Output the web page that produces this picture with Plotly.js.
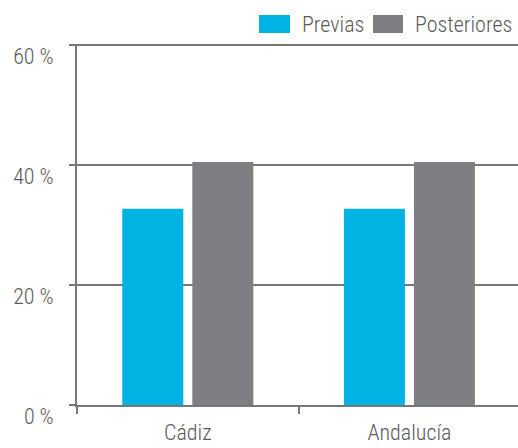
<!DOCTYPE html>
<html>
<head>
<meta charset="utf-8">
<script src="https://cdn.plot.ly/plotly-3.0.1.min.js"></script>
<style>html,body{margin:0;padding:0;background:#fff;}</style>
</head>
<body>
<div id="chart" style="width:518px;height:448px;"></div>
<script>
const categories = ["Cádiz", "Andalucía"];
const previas = [32.7, 32.7];
const posteriores = [40.5, 40.5];
const seriesNames = ["Previas", "Posteriores"];
const seriesColors = ["#00b3e3", "#7e7f83"];
const yTicks = [0, 20, 40, 60];

const FONT = "'Roboto Condensed', 'Liberation Sans Narrow', 'DejaVu Sans Condensed', sans-serif";
const TXT = "#5a5a5a";
const LINE = "#777";

const data = [
  {type: "bar", name: seriesNames[0], x: categories, y: previas, marker: {color: seriesColors[0]}, showlegend: false},
  {type: "bar", name: seriesNames[1], x: categories, y: posteriores, marker: {color: seriesColors[1]}, showlegend: false}
];

// Legend drawn as swatches + labels in paper coordinates
const legendSwatchX = [[0.4127, 0.4830], [0.6712, 0.7392]];
const legendTextX = [0.5057, 0.7619];
const shapes = legendSwatchX.map((xs, i) => ({
  type: "rect", xref: "paper", yref: "paper", x0: xs[0], x1: xs[1], y0: 1.0305, y1: 1.0803,
  fillcolor: seriesColors[i], line: {width: 0}
}));
const annotations = seriesNames.map((n, i) => ({
  text: n, xref: "paper", yref: "paper", x: legendTextX[i], y: 1.0554,
  xanchor: "left", yanchor: "middle", showarrow: false,
  font: {family: FONT, size: 22, color: TXT, weight: 300}
}));

const layout = {
  width: 518, height: 448,
  margin: {l: 77, r: 0, t: 44, b: 43},
  paper_bgcolor: "#fff", plot_bgcolor: "#fff",
  font: {family: FONT, size: 22, color: TXT, weight: 300},
  barmode: "group",
  bargap: 0.368,
  bargroupgap: 0.129,
  showlegend: false,
  shapes: shapes,
  annotations: annotations,
  xaxis: {
    type: "category", range: [-0.5, 1.49],
    showline: true, linecolor: LINE, linewidth: 2,
    ticks: "outside", tickson: "boundaries", ticklen: 7, tickcolor: LINE, tickwidth: 2,
    showgrid: false, zeroline: false,
    ticklabelstandoff: 7,
    tickfont: {family: FONT, size: 22, color: TXT, weight: 300}
  },
  yaxis: {
    range: [0, 60.17], tickvals: yTicks, ticktext: yTicks.map(v => v + " %"),
    showline: true, linecolor: LINE, linewidth: 2,
    ticks: "outside", ticklen: 6, tickcolor: LINE, tickwidth: 2,
    showgrid: true, gridcolor: LINE, gridwidth: 2, zeroline: false,
    ticklabelstandoff: 11, ticklabelshift: 11,
    tickfont: {family: FONT, size: 22, color: TXT, weight: 300}
  }
};

Plotly.newPlot("chart", data, layout, {staticPlot: true, displayModeBar: false});
</script>
</body>
</html>
